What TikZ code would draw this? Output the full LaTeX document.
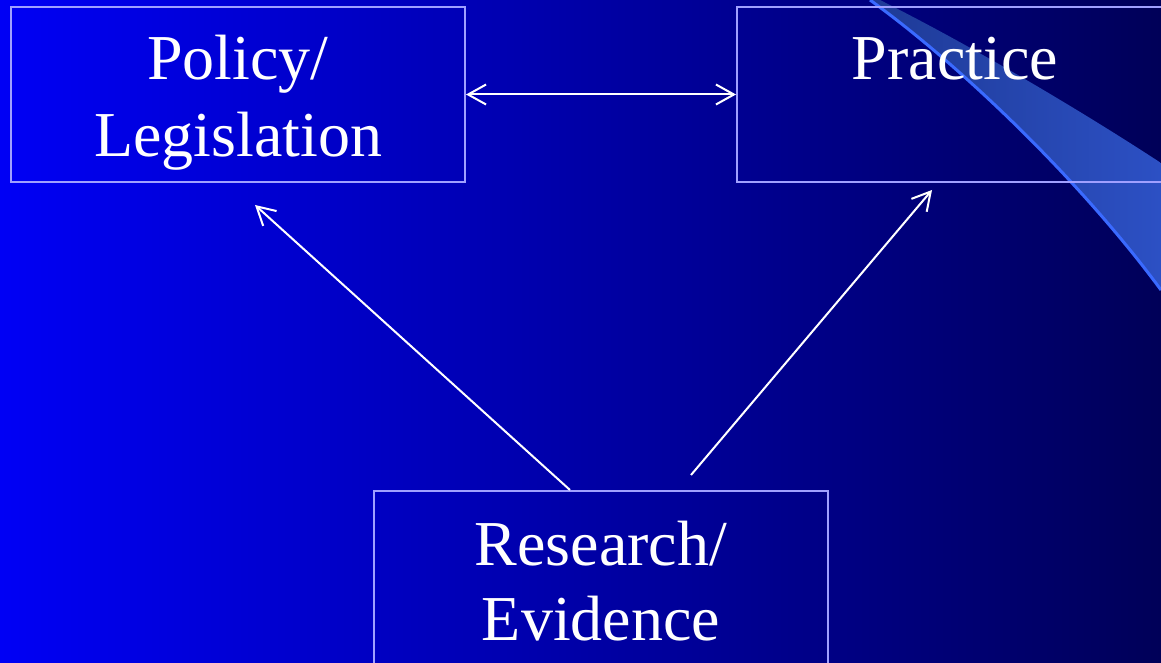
\documentclass[tikz,border=0pt]{standalone}
\usepackage{fontspec}
\setmainfont{Liberation Serif}
\usetikzlibrary{arrows.meta}
\definecolor{bgleft}{RGB}{0,0,245}
\definecolor{bgright}{RGB}{0,0,88}
\definecolor{boxline}{RGB}{160,160,255}
\definecolor{swooshA}{RGB}{30,58,150}
\definecolor{swooshB}{RGB}{44,80,196}
\definecolor{swooshEdge}{RGB}{58,106,255}
\tikzset{
  box/.style={draw=boxline, line width=1pt, rectangle, inner sep=0pt},
  txt/.style={text=white, inner sep=0pt, font=\fontsize{32pt}{38pt}\selectfont, anchor=base},
  arr/.style={draw=white, line width=1pt, -{Straight Barb[length=9pt,width=10pt,line width=1pt]}},
  darr/.style={draw=white, line width=1pt, {Straight Barb[length=9pt,width=10pt,line width=1pt]}-{Straight Barb[length=9pt,width=10pt,line width=1pt]}}
}
\begin{document}
\begin{tikzpicture}[x=0.5pt,y=-0.5pt]
\useasboundingbox (0,0) rectangle (1161,663);
\clip (0,0) rectangle (1161,663);
\shade[left color=bgleft, right color=bgright] (0,0) rectangle (1161,663);
% swoosh
\shade[left color=swooshA, right color=swooshB]
  (880,0) .. controls (970,45) and (1080,110) .. (1161,163)
  -- (1161,290) .. controls (1080,180) and (960,65) .. (870,0) -- cycle;
\draw[swooshEdge, line width=1.5pt] (870,0) .. controls (960,65) and (1080,180) .. (1161,290);
% boxes
\node[box, minimum width=227pt, minimum height=87.5pt] (pol) at (238,94.5) {};
\node[box, minimum width=227pt, minimum height=87.5pt] (pra) at (964,94.5) {};
\node[box, minimum width=227pt, minimum height=87.5pt] (res) at (601,578.5) {};
% texts
\node[txt] (pol1) at (238,80) {Policy/};
\node[txt] (pol2) at (238,157) {Legislation};
\node[txt] (pra1) at (955,80) {Practice};
\node[txt] (res1) at (601,565) {Research/};
\node[txt] (res2) at (601,640) {Evidence};
% connectors
\coordinate (polend) at (255,205);
\coordinate (praend) at (932,190);
\coordinate (resstart) at (691,475);
\draw[darr] (pol.east) -- (pra.west);
\draw[arr] ([xshift=-15.5pt]res.north) -- (polend);
\draw[arr] (resstart) -- (praend);
\end{tikzpicture}
\end{document}
